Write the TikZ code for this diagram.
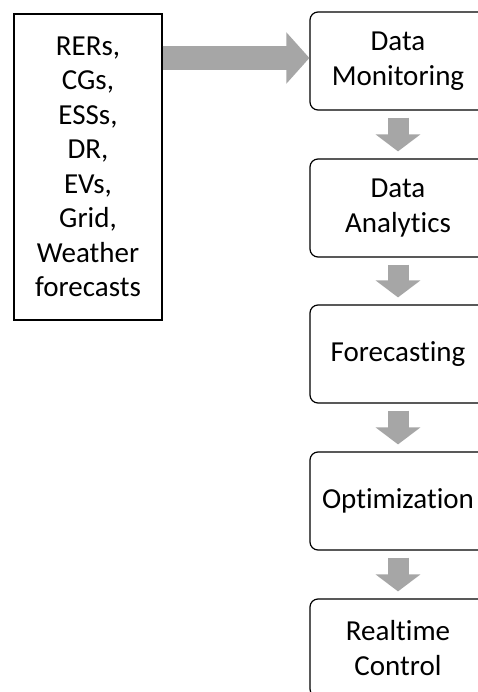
\documentclass[tikz,border=0pt]{standalone}
\usepackage{fontspec}
\setmainfont{Carlito}[Ligatures=NoCommon]
\usetikzlibrary{arrows.meta}
\definecolor{arrowgray}{RGB}{166,166,166}
\begin{document}
\begin{tikzpicture}[x=1pt,y=-1pt,
  every node/.style={font=\fontsize{29}{34.5}\selectfont, align=center, inner sep=0pt},
  srcbox/.style={draw=black, line width=1.2pt, minimum width=148pt, minimum height=306pt},
  stagebox/.style={draw=black, line width=1.2pt, rounded corners=8pt, minimum width=176pt, minimum height=98pt},
  bigarrow/.style={draw=arrowgray, line width=24pt, -{Triangle[width=50pt,length=23pt]}},
  downarrow/.style={draw=arrowgray, line width=21pt, -{Triangle[width=44pt,length=17pt]}}]
\useasboundingbox (0,0) rectangle (478,692);
\clip (0,0) rectangle (478,692);
\fill[white] (0,0) rectangle (478,692);
\node[srcbox] (src) at (88,167) {RERs,\\CGs,\\ESSs,\\DR,\\EVs,\\Grid,\\Weather\\forecasts};
\node[stagebox] (b1) at (398,61) {Data\\Monitoring};
\node[stagebox] (b2) at (398,208) {Data\\Analytics};
\node[stagebox] (b3) at (398,354) {Forecasting};
\node[stagebox] (b4) at (398,501) {Optimization};
\node[stagebox] (b5) at (398,648) {Realtime\\Control};
\draw[bigarrow] ([yshift=3pt]src.east |- b1.west) -- ([yshift=3pt]b1.west);
\draw[downarrow] ([yshift=-7pt]b1.south) -- ([yshift=7pt]b2.north);
\draw[downarrow] ([yshift=-7pt]b2.south) -- ([yshift=7pt]b3.north);
\draw[downarrow] ([yshift=-7pt]b3.south) -- ([yshift=7pt]b4.north);
\draw[downarrow] ([yshift=-7pt]b4.south) -- ([yshift=7pt]b5.north);
\end{tikzpicture}
\end{document}
